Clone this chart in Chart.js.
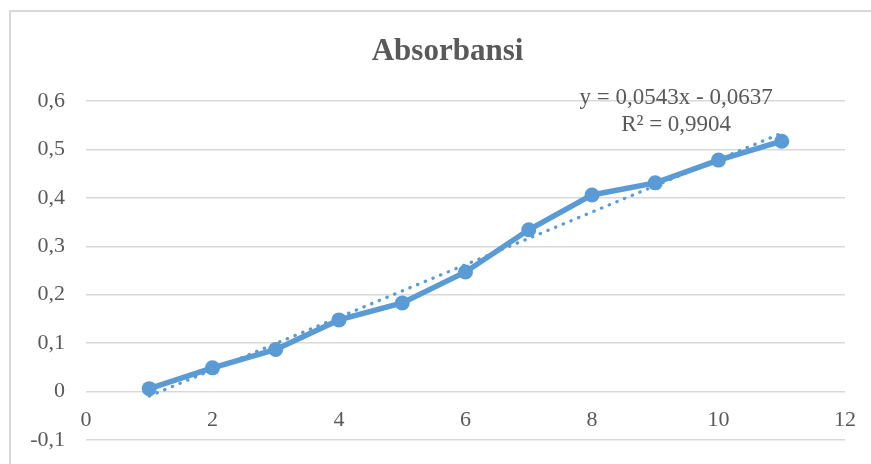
<!DOCTYPE html>
<html>
<head>
<meta charset="utf-8">
<script src="https://cdn.jsdelivr.net/npm/chart.js@4"></script>
<style>
  html, body { margin: 0; padding: 0; background: #fff; overflow: hidden; }
  #frame { position: absolute; left: 9px; top: 10px; width: 900px; height: 500px; border: 2px solid #d9d9d9; }
  #c { position: absolute; left: 0; top: 0; }
</style>
</head>
<body>
<div id="frame"></div>
<canvas id="c" width="871" height="464"></canvas>
<script>
// Data
const x_values = [1, 2, 3, 4, 5, 6, 7, 8, 9, 10, 11];
const absorbansi = [0.006, 0.049, 0.087, 0.148, 0.183, 0.247, 0.334, 0.406, 0.431, 0.478, 0.517];

// trendline as written on the chart
const trend_slope = 0.0543;
const trend_intercept = -0.0637;
const trend_label = ["y = 0,0543x - 0,0637", "R² = 0,9904"];

const chart_title = "Absorbansi";
const x_ticks = [0, 2, 4, 6, 8, 10, 12];
const y_ticks = [-0.1, 0, 0.1, 0.2, 0.3, 0.4, 0.5, 0.6];

const blue = "#5b9bd5";
const grey_text = "#595959";
const serif = "'Liberation Serif', 'Times New Roman', serif";

// the two ends of the linear trendline
const trend_points = [x_values[0], x_values[x_values.length - 1]].map(x => ({
  x: x, y: trend_slope * x + trend_intercept
}));

function fmt(v) {
  if (Math.abs(v) < 1e-9) return "0";
  return v.toFixed(1).replace(".", ",");
}

// title centred on the whole chart frame (Excel style) and the trendline equation
const chartTexts = {
  id: "chartTexts",
  afterDatasetsDraw(chart) {
    const ctx = chart.ctx;
    const xs = chart.scales.x, ys = chart.scales.y;
    ctx.save();
    ctx.fillStyle = grey_text;
    ctx.textAlign = "center";
    ctx.textBaseline = "middle";

    ctx.font = "bold 31px " + serif;
    ctx.fillText(chart_title, 447.5, 52);

    const cx = xs.getPixelForValue(9.33);
    const cy = ys.getPixelForValue(0.607);
    ctx.font = "23px " + serif;
    ctx.fillText(trend_label[0], cx, cy);
    ctx.fillText(trend_label[1], cx, cy + 27);
    ctx.restore();
  }
};

new Chart(document.getElementById("c"), {
  type: "scatter",
  data: {
    datasets: [
      {
        label: "Absorbansi",
        data: x_values.map((x, i) => ({ x: x, y: absorbansi[i] })),
        showLine: true,
        borderColor: blue,
        backgroundColor: blue,
        borderWidth: 5.5,
        pointRadius: 7.5,
        pointBorderWidth: 0,
        order: 2
      },
      {
        label: "Linear",
        data: trend_points,
        showLine: true,
        borderColor: blue,
        borderWidth: 3.2,
        borderDash: [0.5, 7.8],
        borderCapStyle: "round",
        pointRadius: 0,
        order: 1
      }
    ]
  },
  options: {
    responsive: false,
    animation: false,
    layout: { padding: { left: 16, right: 26, top: 101, bottom: 24 } },
    plugins: {
      legend: { display: false },
      tooltip: { enabled: false },
      title: { display: false }
    },
    scales: {
      x: {
        type: "linear",
        position: { y: 0 },
        min: 0,
        max: 12,
        afterBuildTicks: s => { s.ticks = x_ticks.map(v => ({ value: v })); },
        afterFit: s => { s.paddingLeft = 0; s.paddingRight = 0; },
        grid: { display: false, drawTicks: false },
        border: { display: false },
        ticks: {
          color: grey_text,
          font: { family: serif, size: 22 },
          padding: 15,
          maxRotation: 0
        }
      },
      y: {
        type: "linear",
        min: -0.1,
        max: 0.6,
        afterBuildTicks: s => { s.ticks = y_ticks.map(v => ({ value: v })); },
        afterFit: s => { s.width = 70; s.paddingTop = 0; s.paddingBottom = 0; },
        grid: { color: "#d9d9d9", lineWidth: 1.5, drawTicks: false },
        border: { display: false },
        ticks: {
          color: grey_text,
          font: { family: serif, size: 22 },
          padding: 21,
          callback: v => fmt(v)
        }
      }
    }
  },
  plugins: [chartTexts]
});
</script>
</body>
</html>
